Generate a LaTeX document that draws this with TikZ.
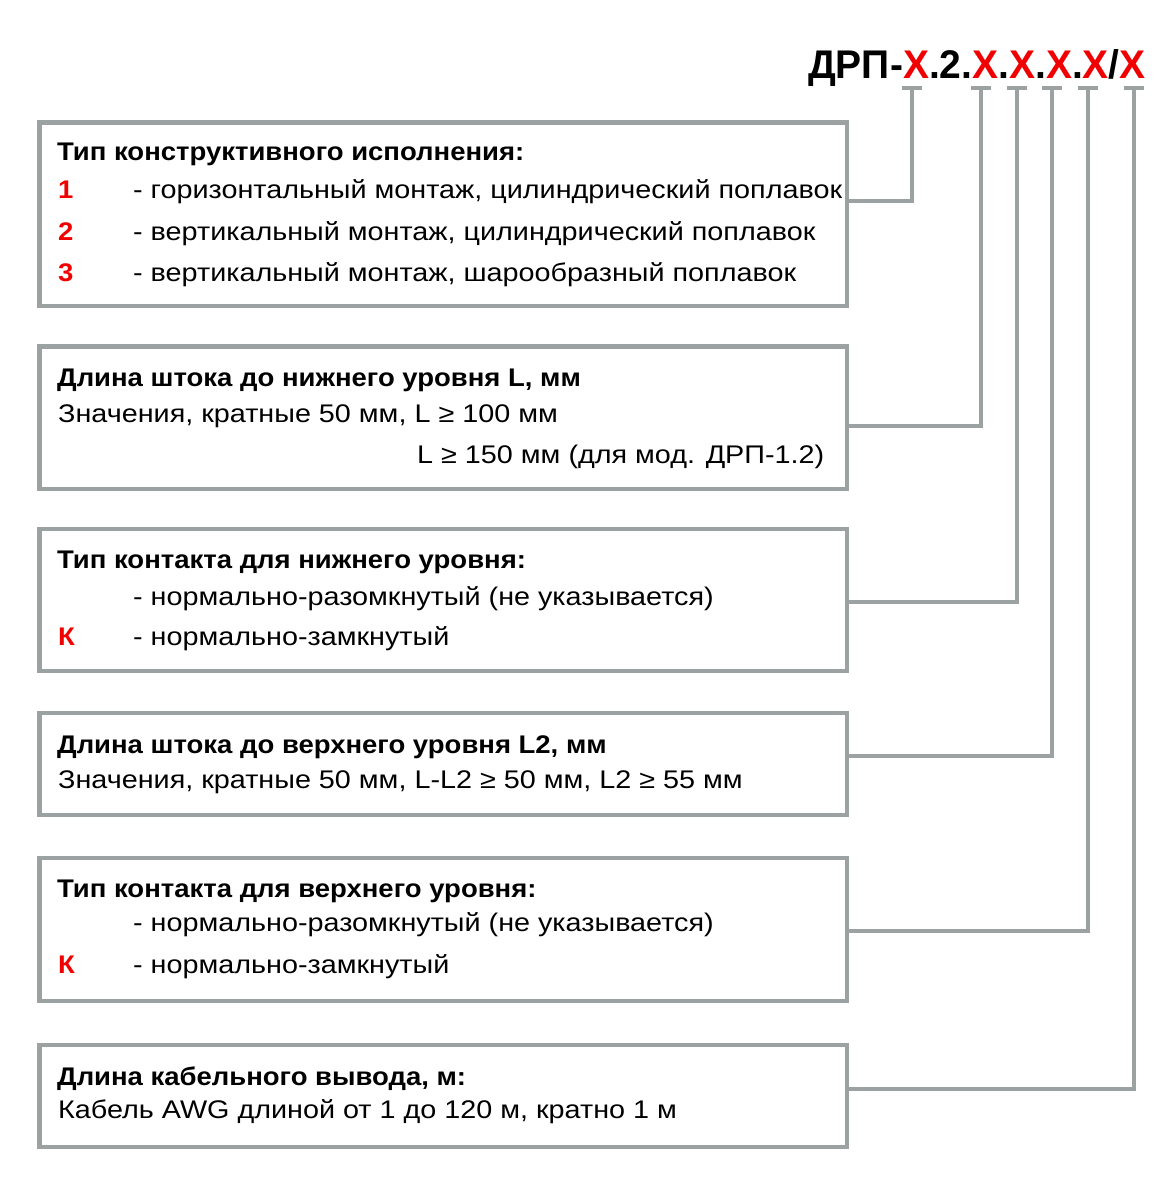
\documentclass[tikz,border=0pt]{standalone}
\usepackage{fontspec}
\setmainfont{Liberation Sans}[FakeStretch=1.128, BoldFeatures={FakeStretch=1.078}]
\newfontfamily\titlefont[FakeStretch=0.975]{Liberation Sans}
\definecolor{boxgray}{HTML}{9CA1A1}
\definecolor{mred}{HTML}{F00000}
\begin{document}
\begin{tikzpicture}[x=1pt,y=-1pt,
  box/.style={draw=boxgray, line width=4.2pt, inner sep=0pt, minimum width=807.5pt},
  conn/.style={draw=boxgray, line width=4pt},
  tick/.style={draw=boxgray, line width=4pt},
  txt/.style={anchor=base west, inner sep=0pt, font=\fontsize{25.5}{30}\selectfont},
  hd/.style={txt, font=\fontsize{25.5}{30}\selectfont\bfseries},
  num/.style={txt, font=\fontsize{25.5}{30}\selectfont\bfseries, text=mred}]
\useasboundingbox (0,0) rectangle (1163,1200);
\fill[white] (0,0) rectangle (1163,1200);

% title
\node[anchor=base west, inner sep=0pt, font=\titlefont\fontsize{40}{44}\selectfont\bfseries] (title) at (808,78)
  {ДРП-\textcolor{mred}{X}.2.\textcolor{mred}{X}.\textcolor{mred}{X}.\textcolor{mred}{X}.\textcolor{mred}{X}/\textcolor{mred}{X}};

% boxes
\node[box, minimum height=183.5pt] (b1) at (443.25,214.25) {};
\node[box, minimum height=142.5pt] (b2) at (443.25,417.75) {};
\node[box, minimum height=142pt] (b3) at (443.25,600) {};
\node[box, minimum height=102pt] (b4) at (443.25,764) {};
\node[box, minimum height=143pt] (b5) at (443.25,929.5) {};
\node[box, minimum height=102pt] (b6) at (443.25,1096) {};

% tick points
\coordinate (t1) at (912,88);
\coordinate (t2) at (981,88);
\coordinate (t3) at (1017,88);
\coordinate (t4) at (1052,88);
\coordinate (t5) at (1088,88);
\coordinate (t6) at (1134,88);
\foreach \t in {t1,t2,t3,t4,t5,t6} {\draw[tick] ([xshift=-10pt]\t) -- ([xshift=10pt]\t);}

% junctions
\coordinate (j1) at (912,201);
\coordinate (j2) at (981,426);
\coordinate (j3) at (1017,602);
\coordinate (j4) at (1052,756);
\coordinate (j5) at (1088,931);
\coordinate (j6) at (1134,1089);
\draw[conn] (t1) -- (j1) -- (j1 -| b1.east);
\draw[conn] (t2) -- (j2) -- (j2 -| b2.east);
\draw[conn] (t3) -- (j3) -- (j3 -| b3.east);
\draw[conn] (t4) -- (j4) -- (j4 -| b4.east);
\draw[conn] (t5) -- (j5) -- (j5 -| b5.east);
\draw[conn] (t6) -- (j6) -- (j6 -| b6.east);

% box 1
\node[hd] (h1) at (57,160) {Тип конструктивного исполнения:};
\node[num] (n11) at (58,198) {1};
\node[txt] (l11) at (133,198) {- горизонтальный монтаж, цилиндрический поплавок};
\node[num] (n12) at (58,240) {2};
\node[txt] (l12) at (133,240) {- вертикальный монтаж, цилиндрический поплавок};
\node[num] (n13) at (58,281) {3};
\node[txt] (l13) at (133,281) {- вертикальный монтаж, шарообразный поплавок};

% box 2
\node[hd] (h2) at (57,386) {Длина штока до нижнего уровня L, мм};
\node[txt] (l21) at (58,422) {Значения, кратные 50 мм, L ≥ 100 мм};
\node[txt] (l22) at (417,463) {L ≥ 150 мм (для мод. ДРП-1.2)};

% box 3
\node[hd] (h3) at (57,568) {Тип контакта для нижнего уровня:};
\node[txt] (l31) at (133,605) {- нормально-разомкнутый (не указывается)};
\node[num] (n32) at (58,645) {К};
\node[txt] (l32) at (133,645) {- нормально-замкнутый};

% box 4
\node[hd] (h4) at (57,753) {Длина штока до верхнего уровня L2, мм};
\node[txt] (l41) at (58,788) {Значения, кратные 50 мм, L-L2 ≥ 50 мм, L2 ≥ 55 мм};

% box 5
\node[hd] (h5) at (57,897) {Тип контакта для верхнего уровня:};
\node[txt] (l51) at (133,931) {- нормально-разомкнутый (не указывается)};
\node[num] (n52) at (58,973) {К};
\node[txt] (l52) at (133,973) {- нормально-замкнутый};

% box 6
\node[hd] (h6) at (57,1085) {Длина кабельного вывода, м:};
\node[txt] (l61) at (58,1118) {Кабель AWG длиной от 1 до 120 м, кратно 1 м};
\end{tikzpicture}
\end{document}
